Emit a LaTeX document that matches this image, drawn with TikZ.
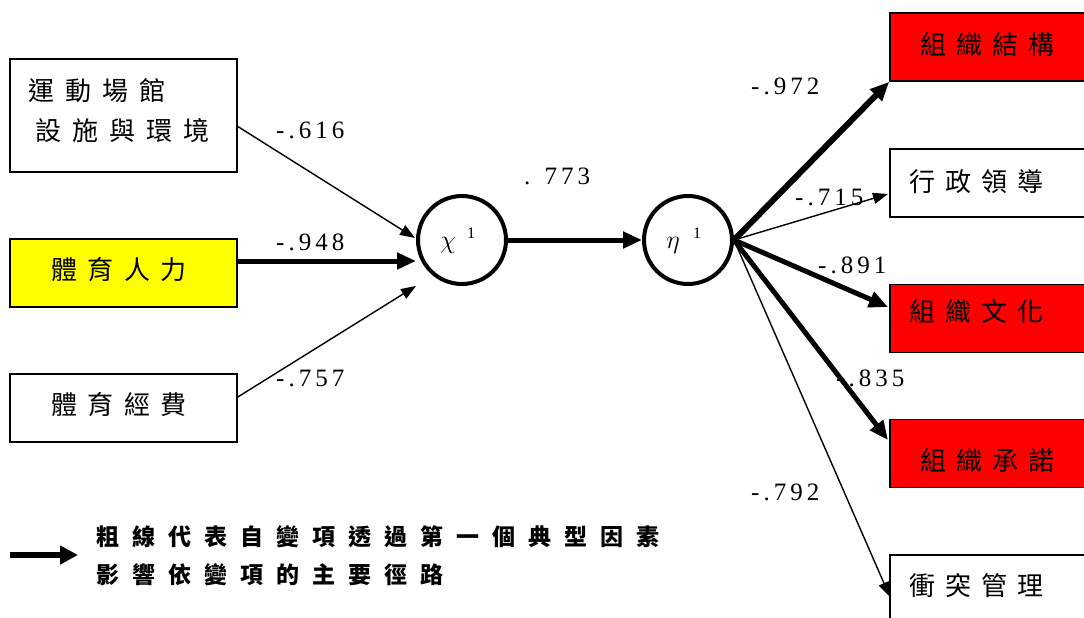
\RequirePackage{fix-cm}
\documentclass[tikz,border=0pt]{standalone}
\usepackage{fontspec}
\setmainfont{Liberation Serif}
\newfontfamily\cjk{Noto Sans CJK TC}
\usetikzlibrary{arrows.meta,calc}
\makeatletter
\newcommand\spc[2]{\def\spc@g{#1}\@tfor\spc@c:=#2\do{\spc@c\hspace{\spc@g}}\unskip}
\makeatother
\definecolor{boxred}{RGB}{255,0,0}
\definecolor{boxyellow}{RGB}{255,255,0}
\tikzset{
  box/.style={draw=black, line width=1.6pt, inner sep=0pt, minimum width=227pt, minimum height=68pt},
  rbox/.style={box, minimum width=240pt},
  circ/.style={circle, draw=black, line width=4pt, minimum size=88pt, inner sep=0pt},
  ctext/.style={font=\cjk\fontsize{26}{26}\selectfont, anchor=west, inner sep=0pt},
  num/.style={font=\fontsize{25}{25}\selectfont, anchor=west, inner sep=0pt},
  greek/.style={inner sep=0pt, font=\fontsize{26}{26}\selectfont},
  sup/.style={inner sep=0pt, font=\fontsize{16}{16}\selectfont},
  thinarr/.style={line width=1.4pt, -{Triangle[length=15pt,width=11pt]}},
  thickarr/.style={line width=5pt, -{Triangle[length=19pt,width=16pt]}},
  legtext/.style={font=\cjk\bfseries\fontsize{23}{23}\selectfont, anchor=west, inner sep=0pt}
}
\begin{document}
\begin{tikzpicture}[x=1pt,y=-1pt]
\clip (0,0) rectangle (1084,618);
\fill[white] (0,0) rectangle (1084,618);
% left boxes
\node[box, minimum height=113pt] (b1) at (123.5,115.5) {};
\node[box, fill=boxyellow] (b2) at (123.5,273) {};
\node[box] (b3) at (123.5,408) {};
\node[ctext] (t1a) at (28,91) {\spc{11pt}{運動場館}};
\node[ctext] (t1b) at (35,131) {\spc{11pt}{設施與環境}};
\node[ctext] (t2) at (51,270) {\spc{10.5pt}{體育人力}};
\node[ctext] (t3) at (51,405) {\spc{10.5pt}{體育經費}};
% right boxes
\node[rbox, fill=boxred] (r1) at (1010,47) {};
\node[rbox] (r2) at (1010,183) {};
\node[rbox, fill=boxred] (r3) at (1010,318.5) {};
\node[rbox, fill=boxred] (r4) at (1010,453.5) {};
\node[rbox] (r5) at (1010,589) {};
\node[ctext] (s1) at (920,45) {\spc{10pt}{組織結構}};
\node[ctext] (s2) at (909,182) {\spc{10pt}{行政領導}};
\node[ctext] (s3) at (909,312) {\spc{10pt}{組織文化}};
\node[ctext] (s4) at (920,461) {\spc{10pt}{組織承諾}};
\node[ctext] (s5) at (909,586) {\spc{10pt}{衝突管理}};
% circles
\node[circ] (chi) at (462,240) {};
\node[circ] (eta) at (688,240) {};
\node[greek] (chil) at (448,245) {$\chi$};
\node[sup] (chin) at (471,233) {1};
\node[greek] (etal) at (673,245) {$\eta$};
\node[sup] (etan) at (697,233) {1};
% numbers
\node[num] (n1) at (276,130) {\spc{4pt}{-.616}};
\node[num] (n2) at (276,242) {\spc{4pt}{-.948}};
\node[num] (n3) at (276,378) {\spc{4pt}{-.757}};
\node[num] (n4) at (524,176) {\spc{4pt}{.{\ }773}};
\node[num] (n5) at (751,86) {\spc{4pt}{-.972}};
\node[num] (n6) at (795,197) {\spc{4pt}{-.715}};
\node[num] (n7) at (818,265) {\spc{4pt}{-.891}};
\node[num] (n8) at (836,378) {\spc{4pt}{-.835}};
\node[num] (n9) at (751,492) {\spc{4pt}{-.792}};
% arrow end coordinates
\coordinate (c1) at (415,238);
\coordinate (c2) at (416,261);
\coordinate (c3) at (416,286);
\coordinate (e2) at (888,194);
\coordinate (e3) at (888,307);
\coordinate (e4) at (888,440);
\coordinate (e5) at (890,597);
% left arrows
\draw[thinarr] ([yshift=-11pt]b1.east) -- (c1);
\draw[thickarr] ([yshift=12pt]b2.east) -- (c2);
\draw[thinarr] ([yshift=11pt]b3.east) -- (c3);
% middle
\draw[thickarr] (chi.east) -- (eta.west);
% right arrows
\draw[thickarr, line width=6pt] (eta.east) -- (r1.south west);
\draw[thinarr] (eta.east) -- (e2);
\draw[thickarr] (eta.east) -- (e3);
\draw[thickarr] (eta.east) -- (e4);
\draw[thinarr] (eta.east) -- (e5);
% legend
\coordinate (la) at (10,555);
\coordinate (lb) at (78,555);
\draw[line width=6pt, -{Triangle[length=18pt,width=18pt]}] (la) -- (lb);
\node[legtext] (l1) at (96,537) {\spc{13pt}{粗線代表自變項透過第一個典型因素}};
\node[legtext] (l2) at (96,575) {\spc{13pt}{影響依變項的主要徑路}};
\end{tikzpicture}
\end{document}
